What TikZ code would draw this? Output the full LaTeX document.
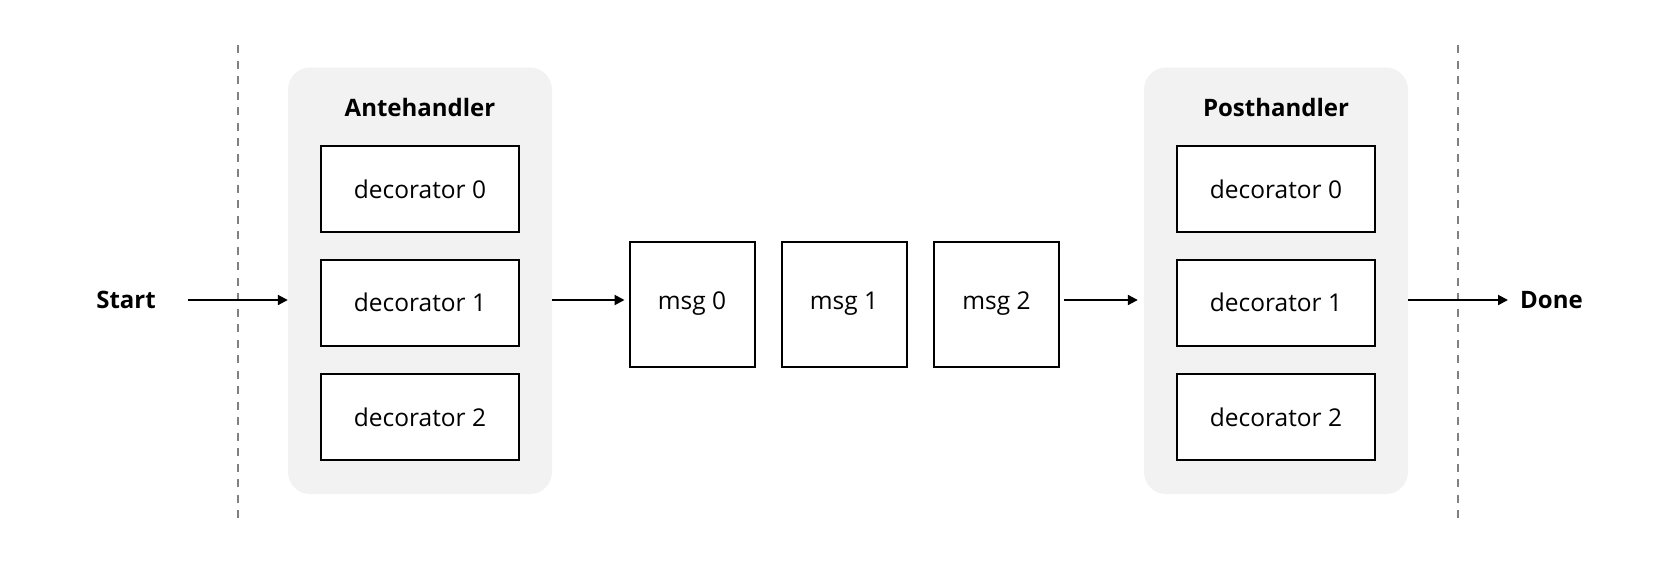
\documentclass[tikz,border=0pt]{standalone}
\usepackage{fontspec}
\setmainfont{Open Sans}
\usetikzlibrary{arrows.meta,calc}
\definecolor{panelgray}{HTML}{F2F2F2}
\definecolor{dashgray}{HTML}{808080}
\tikzset{
  panel/.style={fill=panelgray, rounded corners=22pt, draw=none, minimum width=264pt, minimum height=426.5pt, inner sep=0pt},
  decbox/.style={draw=black, line width=2pt, fill=white, minimum width=198pt, minimum height=86pt, inner sep=0pt, font=\fontsize{24.5}{28}\selectfont},
  msgbox/.style={draw=black, line width=2pt, fill=white, minimum width=125pt, minimum height=125pt, inner sep=0pt, font=\fontsize{24.5}{28}\selectfont},
  title/.style={font=\fontsize{24}{28}\selectfont\bfseries, inner sep=0pt},
  flow/.style={line width=2pt, -{Triangle[length=10pt,width=10pt]}},
  sep/.style={draw=dashgray, line width=2pt, dash pattern=on 8pt off 7.5pt}
}
\begin{document}
\begin{tikzpicture}[x=1pt,y=-1pt]
\useasboundingbox (0,0) rectangle (1680,568);
% separators
\coordinate (sepLtop) at (238,45);
\coordinate (sepLbot) at (238,523);
\coordinate (sepRtop) at (1458,45);
\coordinate (sepRbot) at (1458,523);
\draw[sep] (sepLtop) -- (sepLbot);
\draw[sep] (sepRtop) -- (sepRbot);
% panels
\node[panel] (ante) at (420,280.75) {};
\node[panel] (post) at (1276,280.75) {};
\node[title] (antetitle) at (420,107) {Antehandler};
\node[title] (posttitle) at (1276,107) {Posthandler};
% decorators
\node[decbox] (a0) at (420,189) {decorator 0};
\node[decbox] (a1) at (420,302.5) {decorator 1};
\node[decbox] (a2) at (420,417) {decorator 2};
\node[decbox] (p0) at (1276,189) {decorator 0};
\node[decbox] (p1) at (1276,302.5) {decorator 1};
\node[decbox] (p2) at (1276,417) {decorator 2};
% messages
\node[msgbox] (m0) at (692,304) {msg 0};
\node[msgbox] (m1) at (844,304) {msg 1};
\node[msgbox] (m2) at (996.5,304) {msg 2};
% start/done
\node[title] (start) at (126,300) {Start};
\node[title, anchor=west] (done) at (1520,300) {Done};
% arrows
\coordinate (startout) at (187.5,300);
\draw[flow] (startout) -- (ante.west |- startout);
\draw[flow] (ante.east |- startout) -- ([xshift=-4pt]m0.west |- startout);
\draw[flow] ([xshift=4pt]m2.east |- startout) -- ([xshift=-6pt]post.west |- startout);
\draw[flow] (post.east |- startout) -- ([xshift=-12pt]done.west);
\end{tikzpicture}
\end{document}
